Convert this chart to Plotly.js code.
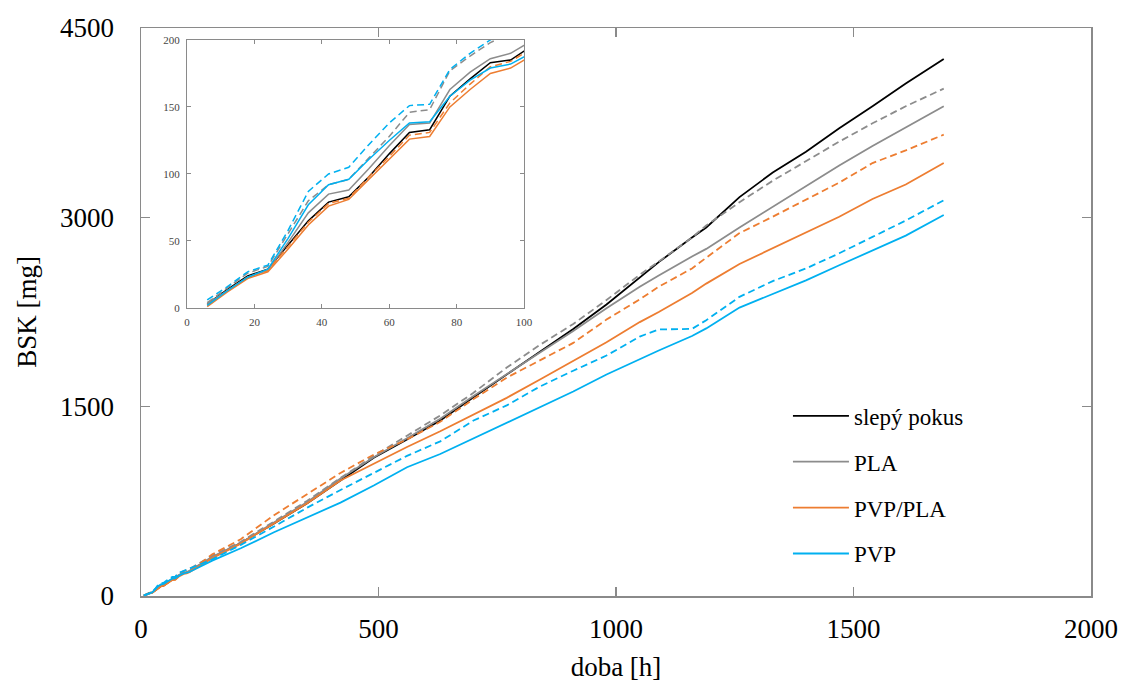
<!DOCTYPE html>
<html>
<head>
<meta charset="utf-8">
<script src="https://cdn.plot.ly/plotly-3.0.1.min.js"></script>
<style>html,body{margin:0;padding:0;background:#fff;}#chart{width:1125px;height:693px;}</style>
</head>
<body>
<div id="chart"></div>
<script>
// time points [h]
const tInset = [6, 12, 18, 24, 30, 36, 42, 48, 54, 60, 66, 72, 78, 84, 90, 96, 102];
const tLong = [150, 210, 280, 350, 420, 490, 560, 630, 700, 770, 840, 910, 980, 1050, 1090, 1160, 1190, 1260, 1330, 1400, 1470, 1540, 1610, 1690];

// BSK [mg] – first 100 h (inset)
const blindInset   = [3, 14, 24, 29, 47, 65, 79, 83, 98, 115, 131, 133, 158, 171, 183, 185, 195];
const plaInset     = [3, 13, 23, 28, 49, 71, 85, 88, 104, 121, 137, 138, 163, 176, 186, 190, 199];
const plaDInset    = [4, 15, 26, 31, 55, 80, 92, 96, 112, 128, 146, 148, 177, 188, 198, 205, 214];
const pvpPlaInset  = [1, 12, 22, 27, 44, 62, 76, 81, 96, 111, 126, 128, 150, 163, 175, 179, 188];
const pvpPlaDInset = [2, 13, 23, 28, 46, 64, 78, 82, 98, 113, 129, 131, 153, 167, 180, 184, 193];
const pvpInset     = [2, 13, 23, 29, 52, 77, 92, 96, 111, 125, 138, 139, 158, 170, 179, 182, 190];
const pvpDInset    = [6, 16, 27, 32, 58, 87, 100, 105, 122, 138, 151, 152, 178, 190, 200, 208, 217];

// BSK [mg] – rest of the run
const blindLong   = [305, 420, 575, 735, 915, 1095, 1240, 1390, 1575, 1755, 1935, 2115, 2310, 2525, 2645, 2840, 2920, 3160, 3355, 3520, 3705, 3880, 4060, 4255];
const plaLong     = [310, 420, 580, 745, 930, 1100, 1250, 1405, 1585, 1760, 1930, 2100, 2280, 2450, 2540, 2690, 2750, 2920, 3085, 3250, 3410, 3565, 3715, 3880];
const plaDLong    = [320, 430, 590, 755, 935, 1110, 1270, 1430, 1610, 1810, 1990, 2155, 2345, 2545, 2650, 2840, 2935, 3120, 3290, 3445, 3600, 3745, 3880, 4020];
const pvpPlaLong  = [300, 415, 575, 735, 915, 1050, 1180, 1305, 1440, 1570, 1715, 1860, 2010, 2170, 2250, 2400, 2475, 2630, 2755, 2875, 3005, 3145, 3260, 3430];
const pvpPlaDLong = [330, 450, 640, 810, 975, 1120, 1240, 1380, 1560, 1730, 1870, 2005, 2190, 2350, 2450, 2595, 2680, 2875, 3005, 3140, 3275, 3430, 3530, 3655];
const pvpLong     = [280, 378, 505, 620, 740, 875, 1020, 1125, 1250, 1370, 1500, 1620, 1755, 1880, 1945, 2060, 2120, 2285, 2395, 2500, 2620, 2740, 2855, 3018];
const pvpDLong    = [290, 405, 550, 700, 840, 975, 1110, 1225, 1390, 1510, 1660, 1785, 1905, 2055, 2112, 2116, 2185, 2370, 2495, 2595, 2715, 2845, 2975, 3135];

const names = ['slepý pokus', 'PLA', 'PLA ', 'PVP/PLA', 'PVP/PLA ', 'PVP', 'PVP '];
const colors = ['#000000', '#8c8c8c', '#8c8c8c', '#ED7D31', '#ED7D31', '#00B0F0', '#00B0F0'];
const dashes = ['solid', 'solid', '7px,4px', 'solid', '7px,4px', 'solid', '7px,4px'];
const insetSets = [blindInset, plaInset, plaDInset, pvpPlaInset, pvpPlaDInset, pvpInset, pvpDInset];
const longSets = [blindLong, plaLong, plaDLong, pvpPlaLong, pvpPlaDLong, pvpLong, pvpDLong];

const tAll = tInset.concat(tLong);
const traces = [];
// main plot
for (let i = 0; i < names.length; i++) {
  traces.push({
    type: 'scatter', mode: 'lines', name: names[i],
    x: tAll, y: insetSets[i].concat(longSets[i]),
    xaxis: 'x', yaxis: 'y',
    line: {color: colors[i], width: 1.8, dash: dashes[i]},
    showlegend: dashes[i] === 'solid',
    legendgroup: 'g' + i,
    hoverinfo: 'x+y+name'
  });
}
// inset
for (let i = 0; i < names.length; i++) {
  traces.push({
    type: 'scatter', mode: 'lines', name: names[i],
    x: tInset, y: insetSets[i],
    xaxis: 'x2', yaxis: 'y2',
    line: {color: colors[i], width: 1.5, dash: dashes[i]},
    showlegend: false, legendgroup: 'g' + i
  });
}

const axisCol = '#8a8a8a';
const serif = 'Liberation Serif, Times New Roman, serif';
const layout = {
  width: 1125, height: 693, autosize: false,
  margin: {l: 141, r: 34, t: 28, b: 97},
  paper_bgcolor: '#ffffff', plot_bgcolor: '#ffffff',
  font: {family: serif, color: '#000000'},
  showlegend: true,
  legend: {
    x: 0.681, y: 0.355, xanchor: 'left', yanchor: 'top',
    bgcolor: 'rgba(0,0,0,0)', borderwidth: 0,
    font: {family: serif, size: 23, color: '#000000'},
    traceorder: 'grouped', tracegroupgap: 13, itemwidth: 56
  },
  xaxis: {
    range: [0, 2000], dtick: 500, tick0: 0,
    showgrid: false, zeroline: false,
    showline: true, linecolor: axisCol, linewidth: 1.5, mirror: 'ticks',
    ticks: 'inside', ticklen: 9, tickcolor: axisCol, tickwidth: 1.5,
    tickfont: {family: serif, size: 27, color: '#000000'},
    ticklabelstandoff: 8,
    title: {text: 'doba [h]', font: {family: serif, size: 27, color: '#000000'}, standoff: 14}
  },
  yaxis: {
    range: [0, 4500], dtick: 1500, tick0: 0,
    showgrid: false, zeroline: false,
    showline: true, linecolor: axisCol, linewidth: 1.5, mirror: 'ticks',
    ticks: 'inside', ticklen: 9, tickcolor: axisCol, tickwidth: 1.5,
    tickfont: {family: serif, size: 27, color: '#000000'},
    ticklabelstandoff: 20,
    title: {text: 'BSK [mg]', font: {family: serif, size: 27, color: '#000000'}, standoff: 15}
  },
  xaxis2: {
    domain: [0.0484, 0.4032], anchor: 'y2',
    range: [0, 100], dtick: 20, tick0: 0,
    showgrid: false, zeroline: false,
    showline: true, linecolor: axisCol, linewidth: 1, mirror: 'ticks',
    ticks: 'inside', ticklen: 4, tickcolor: axisCol, tickwidth: 1,
    tickfont: {family: serif, size: 11, color: '#444444'},
    ticklabelstandoff: 4
  },
  yaxis2: {
    domain: [0.507, 0.979], anchor: 'x2',
    range: [0, 200], dtick: 50, tick0: 0,
    showgrid: false, zeroline: false,
    showline: true, linecolor: axisCol, linewidth: 1, mirror: 'ticks',
    ticks: 'inside', ticklen: 4, tickcolor: axisCol, tickwidth: 1,
    tickfont: {family: serif, size: 11, color: '#444444'},
    ticklabelstandoff: 4
  }
};

Plotly.newPlot('chart', traces, layout, {displayModeBar: false, staticPlot: true});
</script>
</body>
</html>
